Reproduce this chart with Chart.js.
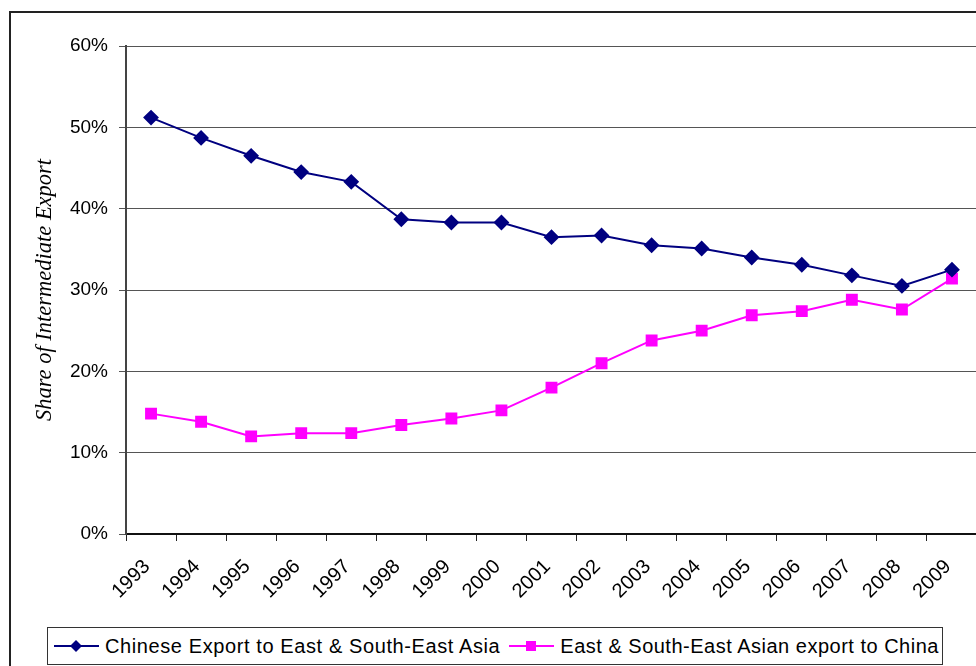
<!DOCTYPE html>
<html>
<head>
<meta charset="utf-8">
<script src="https://cdn.jsdelivr.net/npm/chart.js@4/dist/chart.umd.min.js"></script>
<style>
  html, body { margin: 0; padding: 0; background: #fff; overflow: hidden; }
  #wrap { position: relative; width: 976px; height: 666px; overflow: hidden; }
  #frame {
    position: absolute; left: 9px; top: 11px; width: 1200px; height: 1200px;
    border: 2px solid #222;
  }
  #exportChart { position: absolute; left: 0; top: 0; }
  #legend {
    position: absolute; left: 47px; top: 627px; width: 896px; height: 38px;
    box-sizing: border-box; border: 1px solid #333; background: #fff;
    display: flex; align-items: center; padding-left: 6px;
    font-family: "Liberation Sans", Arial, sans-serif; font-size: 20px;
    letter-spacing: 0.6px; color: #000; white-space: nowrap; overflow: hidden;
  }
  #legend .item { display: flex; align-items: center; margin-right: 9px; }
  #legend .item:last-child { letter-spacing: 0.5px; }
  #legend svg { margin-right: 5px; }
</style>
</head>
<body>
<div id="wrap">
  <div id="frame"></div>
  <canvas id="exportChart" width="986" height="666"></canvas>
  <div id="legend"></div>
</div>
<script>
// share of intermediate exports, per cent
var years = ["1993", "1994", "1995", "1996", "1997", "1998", "1999", "2000", "2001",
             "2002", "2003", "2004", "2005", "2006", "2007", "2008", "2009"];
var chinaToAsia = [51.2, 48.7, 46.5, 44.5, 43.3, 38.7, 38.3, 38.3, 36.5,
                   36.7, 35.5, 35.1, 34.0, 33.1, 31.8, 30.5, 32.5];
var asiaToChina = [14.8, 13.8, 12.0, 12.4, 12.4, 13.4, 14.2, 15.2, 18.0,
                   21.0, 23.8, 25.0, 26.9, 27.4, 28.8, 27.6, 31.4];
var yMin = 0, yMax = 60, yStep = 10;

var tickFont = { family: "'Liberation Sans', Arial, sans-serif", size: 19 };

var chart = new Chart(document.getElementById("exportChart"), {
  type: "line",
  data: {
    labels: years,
    datasets: [{
      label: "Chinese Export to East & South-East Asia",
      data: chinaToAsia,
      borderColor: "#000080",
      backgroundColor: "#000080",
      borderWidth: 2,
      pointStyle: "rectRot",
      pointRadius: 6.5,
      pointHoverRadius: 6.5,
      tension: 0
    }, {
      label: "East & South-East Asian export to China",
      data: asiaToChina,
      borderColor: "#ff00ff",
      backgroundColor: "#ff00ff",
      borderWidth: 2,
      pointStyle: "rect",
      pointRadius: 7,
      pointHoverRadius: 7,
      tension: 0
    }]
  },
  options: {
    responsive: false,
    animation: false,
    devicePixelRatio: 1,
    layout: { padding: { top: 46, left: 0, right: 0, bottom: 0 } },
    plugins: {
      legend: { display: false },
      tooltip: { enabled: false }
    },
    scales: {
      x: {
        offset: true,
        grid: { offset: true, drawOnChartArea: false, drawTicks: true, tickLength: 7, color: "#222" },
        border: { color: "#111", width: 2 },
        ticks: {
          font: { family: tickFont.family, size: 20 }, color: "#000",
          minRotation: 45, maxRotation: 45, autoSkip: false,
          padding: 14, labelOffset: -4
        },
        afterFit: function (scale) { scale.height = 132; }
      },
      y: {
        min: yMin, max: yMax,
        grid: { color: "#555", lineWidth: 1, tickLength: 7 },
        border: { color: "#444", width: 2 },
        ticks: {
          stepSize: yStep, padding: 11, font: tickFont, color: "#000",
          callback: function (v) { return v + "%"; }
        },
        title: {
          display: true,
          text: "Share of Intermediate Export",
          color: "#000",
          font: { family: "'Liberation Serif', 'Times New Roman', serif", size: 22.5, style: "italic" },
          padding: { top: 32, bottom: 0 }
        },
        afterFit: function (scale) { scale.width = 126; }
      }
    }
  }
});

// legend box with line + marker swatches
var legendBox = document.getElementById("legend");
chart.data.datasets.forEach(function (ds) {
  var item = document.createElement("div");
  item.className = "item";
  var marker = ds.pointStyle === "rectRot"
    ? '<polygon points="22,4 28,10 22,16 16,10" fill="' + ds.borderColor + '"/>'
    : '<rect x="17" y="5" width="10" height="10" fill="' + ds.borderColor + '"/>';
  item.innerHTML =
    '<svg width="46" height="20" viewBox="0 0 46 20">' +
    '<line x1="0" y1="10" x2="45" y2="10" stroke="' + ds.borderColor + '" stroke-width="2"/>' +
    marker + '</svg><span>' + ds.label + '</span>';
  legendBox.appendChild(item);
});
</script>
</body>
</html>
